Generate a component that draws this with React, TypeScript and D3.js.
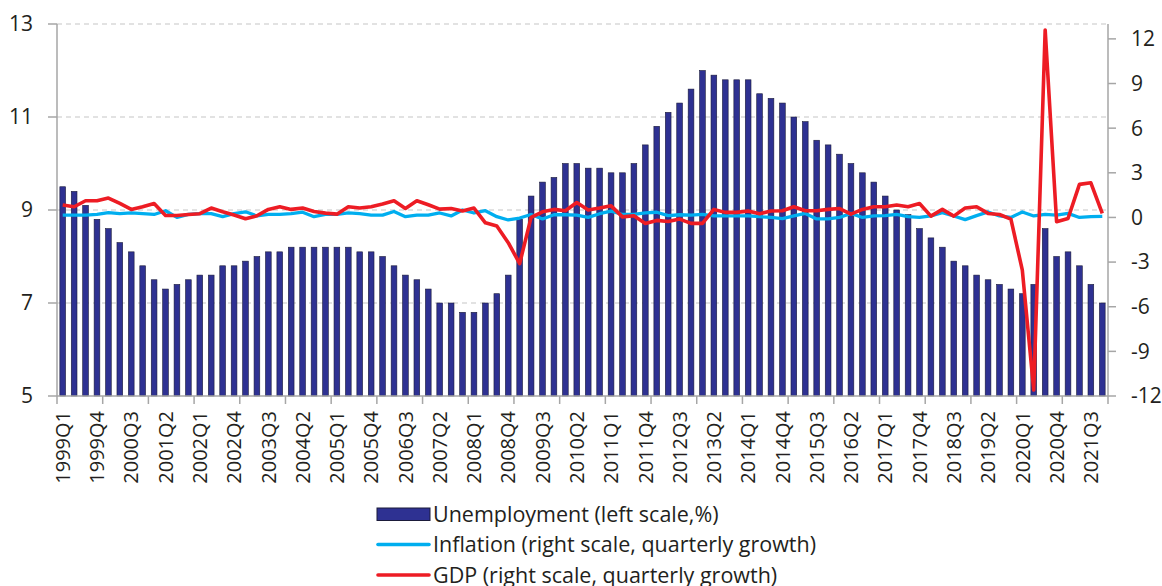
import React from "react";
import { scaleBand, scaleLinear, line } from "d3";

const years = [1999, 2000, 2001, 2002, 2003, 2004, 2005, 2006, 2007, 2008, 2009, 2010,
  2011, 2012, 2013, 2014, 2015, 2016, 2017, 2018, 2019, 2020, 2021];
const quarters = years.flatMap(y => [1, 2, 3, 4].map(q => `${y}Q${q}`));

// unemployment, left scale (%)
const unemployment = [
  9.5, 9.4, 9.1, 8.8, 8.6, 8.3, 8.1, 7.8, 7.5, 7.3, 7.4, 7.5, 7.6, 7.6, 7.8, 7.8, 7.9, 8.0, 8.1, 8.1,
  8.2, 8.2, 8.2, 8.2, 8.2, 8.2, 8.1, 8.1, 8.0, 7.8,
  7.6, 7.5, 7.3, 7.0, 7.0, 6.8, 6.8, 7.0, 7.2, 7.6, 8.8, 9.3, 9.6, 9.7, 10.0, 10.0, 9.9, 9.9, 9.8, 9.8,
  10.0, 10.4, 10.8, 11.1, 11.3, 11.6, 12.0, 11.9, 11.8, 11.8, 11.8, 11.5, 11.4, 11.3,
  11.0, 10.9, 10.5, 10.4, 10.2, 10.0, 9.8, 9.6, 9.3, 9.0, 8.9, 8.6, 8.4, 8.2, 7.9, 7.8, 7.6, 7.5, 7.4, 7.3,
  7.2, 7.4, 8.6, 8.0, 8.1, 7.8, 7.4, 7.0
];

// inflation, right scale (quarterly growth)
const inflation = [
  0.16, 0.16, 0.16, 0.2, 0.32, 0.25, 0.3, 0.25, 0.2, 0.45, 0.0, 0.2, 0.25, 0.25, 0.05, 0.25, 0.38, 0.1, 0.2, 0.2,
  0.25, 0.35, 0.05, 0.2, 0.2, 0.3, 0.25, 0.15, 0.16, 0.4,
  0.05, 0.16, 0.16, 0.3, 0.1, 0.5, 0.3, 0.45, 0.05, -0.17, -0.04, 0.2, -0.1, 0.18, 0.18, 0.16, 0.0, 0.25, 0.42, 0.2,
  0.2, 0.3, 0.35, 0.12, 0.18, 0.16, 0.2, 0.1, 0.1, 0.1, 0.1, 0.05, 0.0, -0.08,
  0.1, 0.27, -0.1, -0.1, 0.0, 0.27, 0.0, 0.1, 0.12, 0.2, 0.05, 0.0, 0.1, 0.32, 0.1, -0.15, 0.12, 0.37, 0.1, 0.0,
  0.37, 0.1, 0.2, 0.16, 0.27, 0.0, 0.05, 0.07
];

// GDP, right scale (quarterly growth)
const gdp = [
  0.83, 0.72, 1.12, 1.12, 1.3, 0.94, 0.54, 0.72, 0.94, 0.13, 0.13, 0.2, 0.25, 0.63, 0.38, 0.16, -0.09, 0.11, 0.54, 0.72,
  0.54, 0.63, 0.4, 0.29, 0.22, 0.72, 0.63, 0.72, 0.9, 1.12,
  0.6, 1.12, 0.85, 0.56, 0.6, 0.43, 0.63, -0.36, -0.58, -1.7, -3.1, 0.0, 0.38, 0.54, 0.45, 1.0, 0.5, 0.63, 0.78, 0.04,
  0.11, -0.4, -0.2, -0.27, -0.11, -0.4, -0.4, 0.54, 0.34, 0.34, 0.43, 0.25, 0.43, 0.45,
  0.72, 0.45, 0.45, 0.54, 0.6, 0.22, 0.54, 0.72, 0.72, 0.83, 0.72, 0.94, 0.09, 0.54, 0.09, 0.63, 0.72, 0.27, 0.2, -0.11,
  -3.54, -11.6, 12.6, -0.29, -0.07, 2.22, 2.33, 0.27
];

const leftTicks = [5, 7, 9, 11, 13];
const rightTicks = [-12, -9, -6, -3, 0, 3, 6, 9, 12];

const legendItems = [
  { label: "Unemployment (left scale,%)", type: "bar" },
  { label: "Inflation (right scale, quarterly growth)", type: "inflation" },
  { label: "GDP (right scale, quarterly growth)", type: "gdp" }
];

const BAR = "#2e3192";
const CYAN = "#00aeef";
const RED = "#ed1c24";
const AXIS = "#a6a6a6";
const TEXT = "#231f20";
const FONT = "'Myriad Pro', 'Open Sans', sans-serif";

export default function App() {
  const width = 1162;
  const height = 586;
  const left = 57, right = 1108, top = 24, bottom = 396;

  const x = scaleBand().domain(quarters).range([left, right]).paddingInner(0.5).paddingOuter(0.25);
  const yL = scaleLinear().domain([5, 13]).range([bottom, top]);
  const yR = scaleLinear().domain([-12, 13]).range([bottom, top]);
  const cx = (i) => x(quarters[i]) + x.bandwidth() / 2;

  const mkLine = line().x((d, i) => cx(i)).y(d => yR(d));

  const step = x.step();
  const tickIdx = quarters.map((_, i) => i).filter(i => i % 4 === 0).concat([quarters.length]);
  const labelIdx = quarters.map((_, i) => i).filter(i => i % 3 === 0);

  return (
    <svg width={width} height={height} style={{ display: "block" }} fontFamily={FONT}>
      <style>{`body{margin:0}`}</style>
      <rect width={width} height={height} fill="#fff" />

      {/* grid */}
      {leftTicks.filter(t => t !== 5).map(t => (
        <line key={t} x1={left} x2={right} y1={yL(t)} y2={yL(t)}
          stroke="#d9d9d9" strokeWidth={1.3} strokeDasharray="5,4" />
      ))}

      {/* bars */}
      {unemployment.map((v, i) => (
        <rect key={i} x={x(quarters[i])} y={yL(v)} width={x.bandwidth()} height={bottom - yL(v)}
          fill={BAR} stroke="#1b1b3a" strokeWidth={0.6} />
      ))}

      {/* lines */}
      <path d={mkLine(inflation)} fill="none" stroke={CYAN} strokeWidth={3.3} strokeLinejoin="round" />
      <path d={mkLine(gdp)} fill="none" stroke={RED} strokeWidth={3.6} strokeLinejoin="round" />

      {/* axes */}
      <line x1={left} x2={left} y1={top} y2={bottom} stroke={AXIS} strokeWidth={1.5} />
      <line x1={right} x2={right} y1={top} y2={bottom} stroke={AXIS} strokeWidth={1.5} />
      <line x1={left} x2={right} y1={bottom} y2={bottom} stroke={AXIS} strokeWidth={1.5} />

      {leftTicks.map(t => (
        <g key={t}>
          <line x1={left - 9} x2={left} y1={yL(t)} y2={yL(t)} stroke={AXIS} strokeWidth={1.5} />
          <text x={33} y={yL(t)} dy="0.35em" textAnchor="end" fontSize={21} fill={TEXT}>{t}</text>
        </g>
      ))}
      {rightTicks.map(t => (
        <g key={t}>
          <line x1={right} x2={right + 8} y1={yR(t)} y2={yR(t)} stroke={AXIS} strokeWidth={1.5} />
          <text x={1131} y={yR(t)} dy="0.35em" textAnchor="start" fontSize={21} fill={TEXT}>{t}</text>
        </g>
      ))}

      {tickIdx.map(i => (
        <line key={i} x1={left + i * step} x2={left + i * step} y1={bottom} y2={bottom + 8}
          stroke={AXIS} strokeWidth={1.5} />
      ))}
      {labelIdx.map(i => (
        <text key={i} transform={`translate(${cx(i)},${411}) rotate(-90)`} dy="0.36em"
          textAnchor="end" fontSize={20} fill={TEXT}>{quarters[i]}</text>
      ))}

      {/* legend */}
      {legendItems.map((d, k) => {
        const yy = 514 + k * 30.5;
        return (
          <g key={d.label}>
            {d.type === "bar" ? (
              <rect x={377} y={yy - 6} width={53} height={12.5} fill={BAR} stroke="#1b1b3a" strokeWidth={1} />
            ) : (
              <line x1={378} x2={429} y1={yy} y2={yy} stroke={d.type === "gdp" ? RED : CYAN}
                strokeWidth={3.6} strokeLinecap="round" />
            )}
            <text x={433} y={yy} dy="0.36em" fontSize={21.5} fill={TEXT}>{d.label}</text>
          </g>
        );
      })}
    </svg>
  );
}
